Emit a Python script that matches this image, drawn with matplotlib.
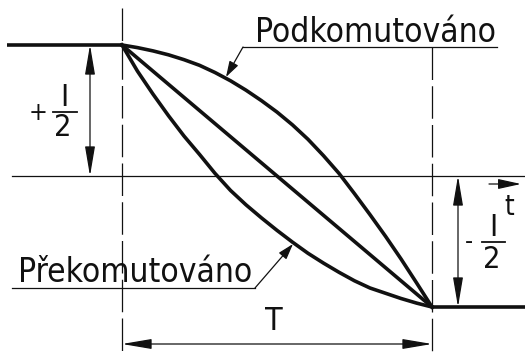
import matplotlib
matplotlib.use('Agg')
import matplotlib.pyplot as plt

# time in units of the commutation period T, current in units of I/2
t_curve = [0.0, 0.05, 0.10, 0.15, 0.20, 0.25, 0.30, 0.35, 0.40, 0.45, 0.50,
           0.55, 0.60, 0.65, 0.70, 0.75, 0.80, 0.85, 0.90, 0.95, 1.0]
# Podkomutovano (under-commutated)
i_under = [1.0, 0.98, 0.955, 0.925, 0.888, 0.845, 0.79, 0.727, 0.655, 0.575, 0.488,
           0.39, 0.28, 0.155, 0.02, -0.135, -0.295, -0.46, -0.633, -0.815, -1.0]
# ideal (linear) commutation
t_ideal = [0.0, 1.0]
i_ideal = [1.0, -1.0]
# Prekomutovano (over-commutated)
i_over = [1.0, 0.80, 0.625, 0.46, 0.305, 0.165, 0.02, -0.11, -0.22, -0.32, -0.415,
          -0.505, -0.59, -0.665, -0.735, -0.80, -0.855, -0.895, -0.935, -0.97, -1.0]

# steady current before / after commutation
t_before = [-0.37, 0.0]
t_after = [1.0, 1.31]
level_before = [1.0, 1.0]
level_after = [-1.0, -1.0]

label_under = 'Podkomutováno'
label_over = 'Překomutováno'

# scale of the drawing (pixels of the original figure)
PX_T = 310.0     # pixels per T
PX_I = 131.0     # pixels per I/2
X_ORG, Y_ORG = 122.0, 176.0


def tx(px):
    return (px - X_ORG) / PX_T


def iy(py):
    return (Y_ORG - py) / PX_I


plt.rcParams['font.family'] = 'DejaVu Sans'
plt.rcParams['font.stretch'] = 'condensed'

fig = plt.figure(figsize=(5.25, 3.53), dpi=100)
ax = fig.add_axes([0, 0, 1, 1])
ax.set_xlim(tx(0), tx(525))
ax.set_ylim(iy(353), iy(0))
ax.axis('off')

ink = '#111111'
thick = 2.6
thin = 0.9

# current waveforms
ax.plot(t_before, level_before, color=ink, lw=thick, solid_capstyle='butt')
ax.plot(t_after, level_after, color=ink, lw=thick, solid_capstyle='butt')
ax.plot(t_curve, i_under, color=ink, lw=thick, solid_joinstyle='round')
ax.plot(t_ideal, i_ideal, color=ink, lw=thick)
ax.plot(t_curve, i_over, color=ink, lw=thick, solid_joinstyle='round')

# time axis
ax.plot([tx(12), tx(525)], [0, 0], color=ink, lw=thin)
ax.annotate('', xy=(tx(521), iy(184)), xytext=(tx(489), iy(184)),
            arrowprops=dict(arrowstyle='-|>,head_length=1.0,head_width=0.22',
                            mutation_scale=14, color=ink, lw=thin,
                            shrinkA=0, shrinkB=0))
ax.text(tx(509), iy(207), 't', fontsize=20, ha='center', va='center', color=ink)

# dashed boundaries of the commutation interval
ax.plot([0, 0], [iy(8), iy(353)], color=ink, lw=thin, dashes=(26, 5))
ax.plot([1, 1], [iy(47), iy(353)], color=ink, lw=thin, dashes=(26, 5))

dim = dict(arrowstyle='<|-|>,head_length=1.3,head_width=0.22',
           mutation_scale=14, color=ink, lw=thin, shrinkA=0, shrinkB=0)

# +I/2 dimension
ax.annotate('', xy=(tx(90), 1.0), xytext=(tx(90), 0.0), arrowprops=dim)
ax.text(tx(38), iy(113), '+', fontsize=18, ha='center', va='center', color=ink)
ax.text(tx(64), iy(97), 'I', fontsize=22, ha='center', va='center', color=ink)
ax.plot([tx(53), tx(77)], [iy(112), iy(112)], color=ink, lw=1.3)
ax.text(tx(63), iy(128), '2', fontsize=22, ha='center', va='center', color=ink)

# -I/2 dimension
ax.annotate('', xy=(tx(458), 0.0), xytext=(tx(458), -1.0), arrowprops=dim)
ax.text(tx(469), iy(242), '-', fontsize=18, ha='center', va='center', color=ink)
ax.text(tx(493), iy(228), 'I', fontsize=22, ha='center', va='center', color=ink)
ax.plot([tx(482), tx(505)], [iy(242), iy(242)], color=ink, lw=1.3)
ax.text(tx(492), iy(260), '2', fontsize=22, ha='center', va='center', color=ink)

# T dimension
ax.annotate('', xy=(0.0, iy(344)), xytext=(1.0, iy(344)), arrowprops=dim)
ax.text(tx(274), iy(321), 'T', fontsize=23, ha='center', va='center', color=ink)

# labels with leaders
lead = dict(arrowstyle='-|>,head_length=0.8,head_width=0.25',
            mutation_scale=12, color=ink, lw=thin, shrinkA=0, shrinkB=0)
ax.text(tx(255), iy(42), label_under, fontsize=24, ha='left', va='baseline',
        color=ink)
ax.plot([tx(243), tx(497)], [iy(47), iy(47)], color=ink, lw=thin)
ax.annotate('', xy=(tx(226), iy(77)), xytext=(tx(243), iy(47)), arrowprops=lead)

ax.text(tx(18), iy(282), label_over, fontsize=24, ha='left', va='baseline',
        color=ink)
ax.plot([tx(12), tx(255)], [iy(288), iy(288)], color=ink, lw=thin)
ax.annotate('', xy=(tx(293), iy(244)), xytext=(tx(255), iy(288)), arrowprops=lead)

fig.savefig('out.png', dpi=100, facecolor='white')
